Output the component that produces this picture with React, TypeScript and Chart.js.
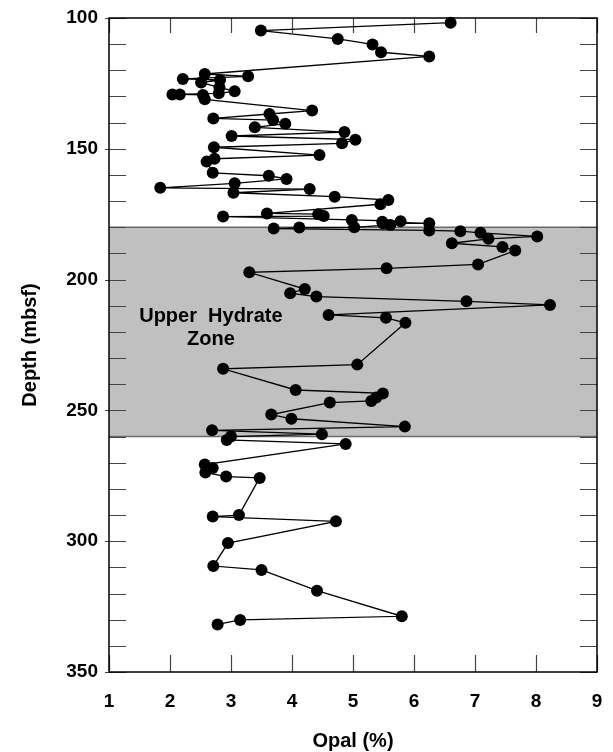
import React, { useEffect, useRef } from "react";
import { Chart, registerables } from "chart.js";

Chart.register(...registerables);

// Depth (mbsf) and opal (%) samples, in depth order
const depths: number[] = [
  101.8, 104.8, 108.0, 110.1, 113.1, 114.7, 121.4, 122.3, 123.3, 123.7,
  124.7, 126.5, 128.0, 128.8, 129.2, 129.2, 129.4, 131.1, 135.4, 136.7,
  138.4, 139.0, 140.4, 141.8, 143.6, 145.1, 146.5, 147.9, 149.4, 152.4,
  153.8, 154.9, 159.2, 160.3, 161.5, 163.2, 164.9, 165.4, 166.8, 168.3,
  169.6, 171.2, 174.7, 175.0, 175.7, 175.9, 177.2, 177.7, 177.9, 178.5,
  178.5, 179.1, 180.0, 180.1, 180.5, 181.2, 181.5, 182.1, 183.5, 184.4,
  186.1, 187.5, 188.9, 194.2, 195.7, 197.2, 203.6, 205.2, 206.5, 208.3,
  209.7, 213.5, 214.6, 216.5, 232.5, 234.1, 242.2, 243.5, 245.1, 246.4,
  247.0, 251.6, 253.2, 256.2, 257.6, 259.1, 260.0, 261.3, 262.8, 270.7,
  272.0, 273.7, 275.3, 275.8, 290.0, 290.6, 292.4, 300.7, 309.5, 311.0,
  318.9, 328.7, 330.1, 331.8,
];
const opal: number[] = [
  6.60, 3.49, 4.75, 5.32, 5.46, 6.25, 2.57, 3.28, 2.21, 2.82,
  2.51, 2.81, 3.06, 2.80, 2.04, 2.16, 2.54, 2.57, 4.33, 3.63,
  2.71, 3.69, 3.89, 3.39, 4.86, 3.01, 5.04, 4.82, 2.72, 4.45,
  2.73, 2.60, 2.70, 3.62, 3.91, 3.06, 1.84, 4.29, 3.04, 4.70,
  5.58, 5.45, 3.59, 4.43, 4.52, 2.87, 4.98, 5.78, 5.48, 6.25,
  5.49, 5.61, 5.02, 4.12, 3.70, 6.25, 6.76, 7.09, 8.02, 7.22,
  6.62, 7.45, 7.66, 7.05, 5.55, 3.30, 4.21, 3.97, 4.40, 6.86,
  8.23, 4.60, 5.54, 5.86, 5.07, 2.87, 4.06, 5.49, 5.38, 5.30,
  4.62, 3.66, 3.99, 5.85, 2.69, 4.49, 3.00, 2.93, 4.88, 2.57,
  2.70, 2.58, 2.92, 3.47, 3.13, 2.70, 4.72, 2.95, 2.71, 3.50,
  4.41, 5.80, 3.15, 2.78,
];

const zoneRange: number[] = [180, 260];
const zoneLabelLines: string[] = ["Upper  Hydrate", "Zone"];
const zoneLabelX = 2.67;
const zoneLabelDepths: number[] = [216.2, 225.0];

const xRange: number[] = [1, 9];
const yRange: number[] = [100, 350];
const yMinorStep = 10;
const yMajorStep = 50;

const FONT = '"Liberation Sans", Arial, Helvetica, sans-serif';

const overlay = {
  id: "overlay",
  beforeDatasetsDraw(chart: any) {
    const { ctx, chartArea: a, scales } = chart;
    const xs = scales.x;
    const ys = scales.y;
    ctx.save();
    // shaded zone
    const yt = ys.getPixelForValue(zoneRange[0]);
    const yb = ys.getPixelForValue(zoneRange[1]);
    ctx.fillStyle = "#c0c0c0";
    ctx.fillRect(a.left, yt, a.right - a.left, yb - yt);
    ctx.strokeStyle = "#6a6a6a";
    ctx.lineWidth = 1.5;
    ctx.beginPath();
    ctx.moveTo(a.left, yt);
    ctx.lineTo(a.right, yt);
    ctx.moveTo(a.left, yb);
    ctx.lineTo(a.right, yb);
    ctx.stroke();

    // ticks
    ctx.strokeStyle = "#444";
    ctx.lineWidth = 1.2;
    ctx.beginPath();
    for (let d = yRange[0]; d <= yRange[1]; d += yMinorStep) {
      const py = Math.round(ys.getPixelForValue(d)) + 0.5;
      const major = d % yMajorStep === 0;
      ctx.moveTo(a.left - (major ? 4 : 0), py);
      ctx.lineTo(a.left + 17, py);
      ctx.moveTo(a.right - 17, py);
      ctx.lineTo(a.right, py);
    }
    for (let v = xRange[0]; v <= xRange[1]; v += 1) {
      const px = Math.round(xs.getPixelForValue(v)) + 0.5;
      ctx.moveTo(px, a.bottom);
      ctx.lineTo(px, a.bottom - 17);
      ctx.moveTo(px, a.top);
      ctx.lineTo(px, a.top + 15);
    }
    ctx.stroke();

    // frame
    ctx.strokeStyle = "#000";
    ctx.lineWidth = 1.5;
    ctx.strokeRect(a.left, a.top, a.right - a.left, a.bottom - a.top);

    // zone label
    ctx.fillStyle = "#000";
    ctx.font = `bold 20px ${FONT}`;
    ctx.textAlign = "center";
    ctx.textBaseline = "alphabetic";
    const lx = xs.getPixelForValue(zoneLabelX);
    zoneLabelLines.forEach((t, i) => {
      ctx.fillText(t, lx, ys.getPixelForValue(zoneLabelDepths[i]));
    });
    ctx.restore();
  },
};

export default function App() {
  const ref = useRef<HTMLCanvasElement | null>(null);
  useEffect(() => {
    if (!ref.current) return;
    const points = depths.map((d, i) => ({ x: opal[i], y: d }));
    const chart = new Chart(ref.current, {
      type: "scatter",
      data: {
        datasets: [
          {
            data: points,
            showLine: true,
            borderColor: "#000",
            borderWidth: 1.3,
            pointRadius: 6,
            pointBackgroundColor: "#000",
            pointBorderWidth: 0,
            pointHoverRadius: 6,
            clip: false,
          },
        ],
      },
      options: {
        responsive: false,
        animation: false,
        devicePixelRatio: 1,
        layout: { autoPadding: false, padding: { top: 18, right: 16, left: 0, bottom: 0 } },
        plugins: { legend: { display: false }, tooltip: { enabled: false } },
        scales: {
          x: {
            type: "linear",
            min: xRange[0],
            max: xRange[1],
            grid: { display: false, drawTicks: false },
            border: { display: false },
            ticks: {
              stepSize: 1,
              autoSkip: false,
              maxRotation: 0,
              padding: 18,
              color: "#000",
              font: { family: FONT, size: 19, weight: "bold" },
            },
            title: {
              display: true,
              text: "Opal (%)",
              color: "#000",
              padding: 0,
              font: { family: FONT, size: 20, weight: "bold", lineHeight: 1.1 },
            },
            afterFit: (s: any) => {
              s.height = 80;
              s.paddingRight = 0;
              s.paddingLeft = 0;
            },
          },
          y: {
            type: "linear",
            reverse: true,
            min: yRange[0],
            max: yRange[1],
            grid: { display: false, drawTicks: false },
            border: { display: false },
            ticks: {
              stepSize: yMajorStep,
              autoSkip: false,
              padding: 11,
              color: "#000",
              font: { family: FONT, size: 19, weight: "bold" },
            },
            title: {
              display: true,
              text: "Depth (mbsf)",
              color: "#000",
              padding: { top: 19, bottom: 0 },
              font: { family: FONT, size: 20, weight: "bold", lineHeight: 1.1 },
            },
            afterFit: (s: any) => {
              s.width = 109;
              s.paddingTop = 0;
              s.paddingBottom = 0;
            },
          },
        },
      },
      plugins: [overlay],
    });
    return () => chart.destroy();
  }, []);
  return (
    <div style={{ position: "fixed", left: 0, top: 0, width: 613, height: 752, background: "#fff" }}>
      <canvas ref={ref} width={613} height={752} style={{ display: "block" }} />
    </div>
  );
}
